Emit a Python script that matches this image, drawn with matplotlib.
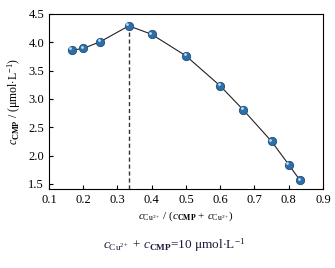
import numpy as np
import matplotlib
matplotlib.use("Agg")
import matplotlib.pyplot as plt

plt.rcParams['font.family'] = ['Liberation Serif', 'DejaVu Serif']
plt.rcParams['mathtext.fontset'] = 'custom'
plt.rcParams['mathtext.rm'] = 'Liberation Serif'
plt.rcParams['mathtext.it'] = 'Liberation Serif:italic'
plt.rcParams['mathtext.bf'] = 'Liberation Serif:bold'

# mole fraction of Cu2+ and measured CMP concentration
fraction = [1/6, 0.2, 0.25, 1/3, 0.4, 0.5, 0.6, 2/3, 0.75, 0.8, 5/6]
c_cmp = [3.86, 3.89, 4.01, 4.29, 4.14, 3.76, 3.23, 2.81, 2.25, 1.84, 1.56]
peak_x = 1/3
xticks = [0.1, 0.2, 0.3, 0.4, 0.5, 0.6, 0.7, 0.8, 0.9]
yticks = [1.5, 2.0, 2.5, 3.0, 3.5, 4.0, 4.5]

fig = plt.figure(figsize=(3.35, 2.68), dpi=100)
ax = fig.add_axes([0.146, 0.295, 0.818, 0.653])

ymin = 1.41
ax.plot([peak_x, peak_x], [ymin, max(c_cmp)], ls='--', color='#333333', lw=1.0, dashes=(3, 2))
ax.plot(fraction, c_cmp, color='#222222', lw=0.8, zorder=2)
ax.plot(fraction, c_cmp, 'o', ms=6, color='#2e6fa7', mec='#1d4f7d', mew=0.6, zorder=3)
ax.plot(np.array(fraction) - 0.004, np.array(c_cmp) + 0.03, 'o', ms=2, color='#c4dcf0', mew=0, zorder=4)

ax.set_xlim(0.1, 0.9)
ax.set_ylim(ymin, 4.5)
ax.set_xticks(xticks)
ax.set_yticks(yticks)
ax.set_xticklabels([f'{t:.1f}' for t in xticks])
ax.set_yticklabels([f'{t:.1f}' for t in yticks])
ax.tick_params(direction='in', length=3, labelsize=9, width=0.8)
for s in ax.spines.values():
    s.set_linewidth(0.8)

ax.set_xlabel(r'$c_{\mathrm{Cu^{2+}}}$ / ($c_{\mathbf{CMP}}$ + $c_{\mathrm{Cu^{2+}}}$)', fontsize=8, labelpad=3)
ax.set_ylabel(r'$c_{\mathbf{CMP}}$ / (μmol$\cdot$L$^{-1}$)', fontsize=8.5, labelpad=4)

fig.text(0.52, 0.085, r'$c_{\mathrm{Cu^{2+}}}$ + $c_{\mathbf{CMP}}$=10 μmol$\cdot$L$^{-1}$',
         ha='center', va='center', fontsize=9.5, color='#1a1a3a')

fig.savefig('out.png', dpi=100)
